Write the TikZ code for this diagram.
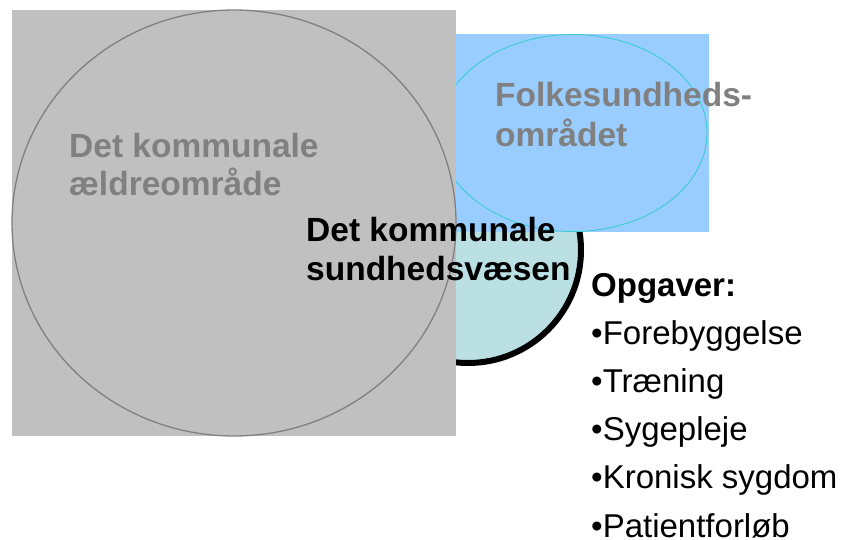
\documentclass[tikz,border=0pt]{standalone}
\usepackage{fontspec}
\setmainfont{Liberation Sans}
\usetikzlibrary{positioning}
\definecolor{areagray}{RGB}{192,192,192}
\definecolor{textgray}{RGB}{128,128,128}
\definecolor{folkeblue}{RGB}{153,204,255}
\definecolor{folkecyan}{RGB}{51,204,204}
\definecolor{sundteal}{RGB}{187,224,227}

\begin{document}
\begin{tikzpicture}[x=1pt, y=-1pt]
    \useasboundingbox (0,0) rectangle (844,539);
    % sundhedsvaesen (behind)
    \draw[line width=6pt, fill=sundteal] (468,250) circle[radius=113];
    % folkesundhed
    \fill[folkeblue] (456,34) rectangle (709,232);
    \draw[folkecyan, line width=0.8pt] (573,133) ellipse[x radius=134, y radius=98.5];
    % aeldreomraade
    \fill[areagray] (12,10) rectangle (456,436);
    \draw[textgray, line width=1.3pt] (234,223) ellipse[x radius=222, y radius=213];

    % base = baseline of the last line
    \node[anchor=base west, inner sep=0, text=textgray, align=left, font=\bfseries\fontsize{33.5}{38}\selectfont] (aeldre) at (69,195) {Det kommunale\\ældreområde};
    \node[anchor=base west, inner sep=0, text=textgray, align=left, font=\bfseries\fontsize{33.5}{40}\selectfont] (folke) at (495,146) {Folkesundheds-\\området};
    \node[anchor=base west, inner sep=0, align=left, font=\bfseries\fontsize{33.5}{39}\selectfont] (sundhed) at (306,280) {Det kommunale\\sundhedsvæsen};
    \node[anchor=base west, inner sep=0, align=left, font=\fontsize{33}{48.2}\selectfont] (opgaver) at (591,537) {\textbf{Opgaver:}\\•Forebyggelse\\•Træning\\•Sygepleje\\•Kronisk sygdom\\•Patientforløb};
\end{tikzpicture}
\end{document}
